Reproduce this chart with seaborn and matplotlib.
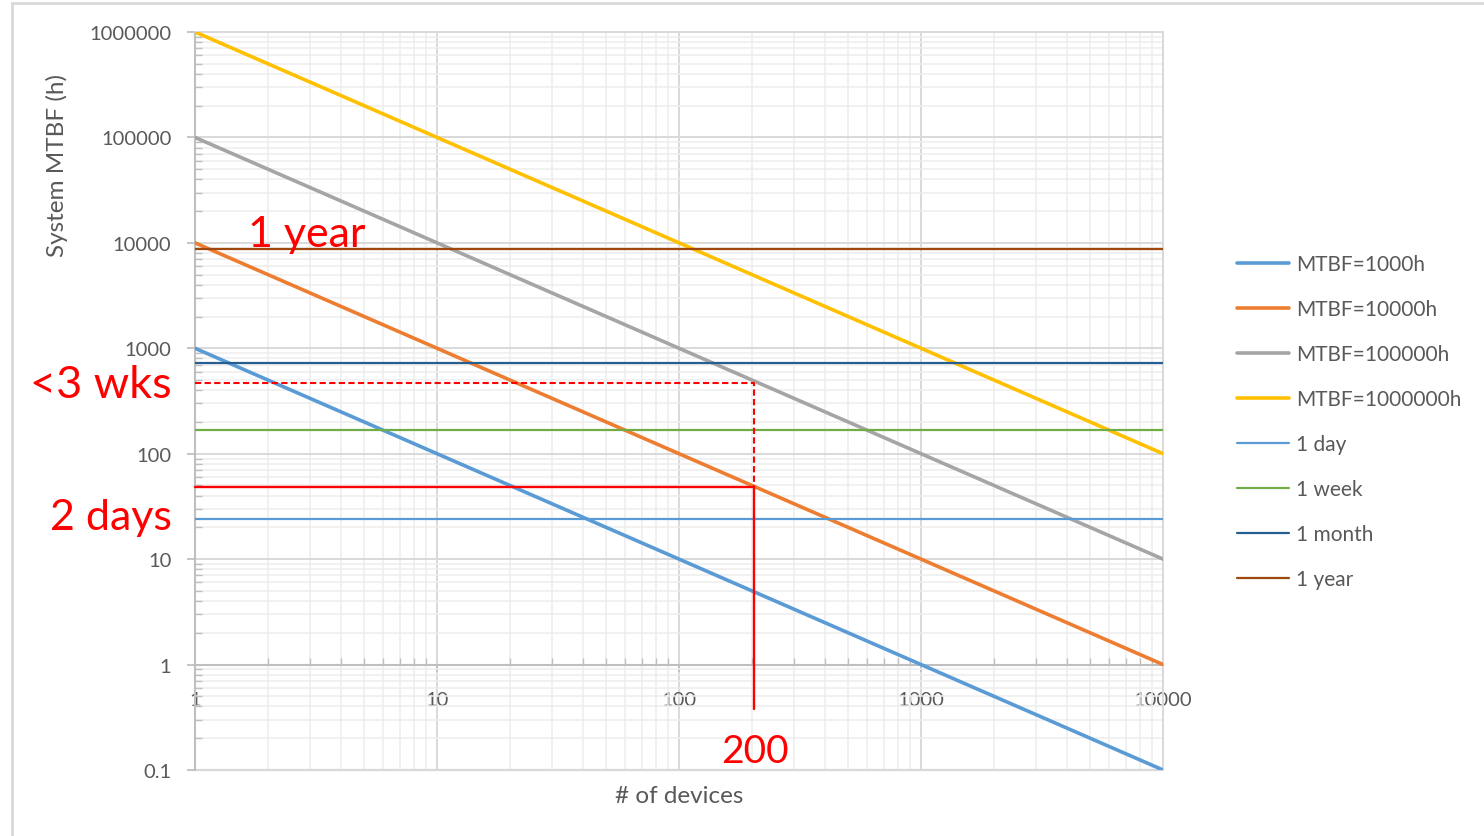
import pandas as pd
import seaborn as sns
import matplotlib.pyplot as plt
from matplotlib.patches import Rectangle
from matplotlib.ticker import LogLocator, FixedLocator, FixedFormatter, NullFormatter
import matplotlib.transforms as mtransforms

# ------------------------
# Data
# ------------------------
devices = [1, 10, 100, 1000, 10000]
mtbf_1e3 = [1000, 100, 10, 1, 0.1]
mtbf_1e4 = [10000, 1000, 100, 10, 1]
mtbf_1e5 = [100000, 10000, 1000, 100, 10]
mtbf_1e6 = [1000000, 100000, 10000, 1000, 100]

span = [1, 10000]
one_day = [24, 24]
one_week = [168, 168]
one_month = [720, 720]
one_year = [8760, 8760]

series_labels = ['MTBF=1000h', 'MTBF=10000h', 'MTBF=100000h', 'MTBF=1000000h',
                 '1 day', '1 week', '1 month', '1 year']
COLORS = ['#5B9BD5', '#ED7D31', '#A5A5A5', '#FFC000',
          '#5B9BD5', '#70AD47', '#255E91', '#9E480E']

# annotation paths
dash_x = [1, 205, 205]
dash_y = [470, 470, 48]
solid_x = [1, 205, 205]
solid_y = [48, 48, 0.38]

yticks = [0.1, 1, 10, 100, 1000, 10000, 100000, 1000000]
ytick_labels = ['0.1', '1', '10', '100', '1000', '10000', '100000', '1000000']
xticks = [1, 10, 100, 1000, 10000]
xtick_labels = ['1', '10', '100', '1000', '10000']

# ------------------------
# Style
# ------------------------
sns.set_style('white')
plt.rcParams['font.family'] = ['Lato', 'DejaVu Sans']
GRAY_TXT = '#595959'
RED = '#FF0000'

fig = plt.figure(figsize=(14.84, 8.37), dpi=100)
ax = fig.add_axes([0.1314, 0.0789, 0.6523, 0.8817])

# ------------------------
# Plotting
# ------------------------
ys = [mtbf_1e3, mtbf_1e4, mtbf_1e5, mtbf_1e6]
for i, y in enumerate(ys):
    sns.lineplot(x=devices, y=y, color=COLORS[i], lw=2.6, label=series_labels[i],
                 ax=ax, zorder=4)
for j, y in enumerate([one_day, one_week, one_month, one_year]):
    sns.lineplot(x=span, y=y, color=COLORS[4 + j], lw=1.6, label=series_labels[4 + j],
                 ax=ax, zorder=4)

sns.lineplot(x=dash_x, y=dash_y, sort=False, estimator=None, color=RED, lw=1.5,
             linestyle=(0, (3, 1.6)), ax=ax, zorder=5)
sns.lineplot(x=solid_x, y=solid_y, sort=False, estimator=None, color=RED, lw=1.7,
             ax=ax, zorder=5, clip_on=False)

# Axis settings
ax.set_xscale('log')
ax.set_yscale('log')
ax.set_xlim(1, 10000)
ax.set_ylim(0.1, 1000000)

ax.yaxis.set_major_locator(FixedLocator(yticks))
ax.yaxis.set_major_formatter(FixedFormatter(ytick_labels))
ax.xaxis.set_major_locator(FixedLocator(xticks))
ax.xaxis.set_major_formatter(FixedFormatter(xtick_labels))
for axis in (ax.xaxis, ax.yaxis):
    axis.set_minor_locator(LogLocator(base=10, subs=range(2, 10), numticks=20))
    axis.set_minor_formatter(NullFormatter())

ax.grid(True, which='major', color='#D9D9D9', lw=1.4, zorder=0)
ax.grid(True, which='minor', color='#EDEDED', lw=1.1, zorder=0)
ax.set_axisbelow(True)

ax.spines['bottom'].set_position(('data', 1))
for s in ('bottom', 'left'):
    ax.spines[s].set_color('#BFBFBF')
    ax.spines[s].set_linewidth(1.5)
for s in ('top', 'right'):
    ax.spines[s].set_color('#D9D9D9')
    ax.spines[s].set_linewidth(1.4)
ax.axhline(0.1, color='#D9D9D9', lw=1.6, clip_on=False, zorder=1)

ax.tick_params(axis='y', which='major', direction='out', length=6, width=1.3,
               color='#BFBFBF', labelsize=14.5, labelcolor=GRAY_TXT, pad=11, left=True)
ax.tick_params(axis='y', which='minor', direction='in', length=5, width=1,
               color='#BFBFBF', left=True)
ax.tick_params(axis='x', which='major', direction='out', length=5, width=1.3,
               color='#BFBFBF', labelsize=14.5, labelcolor=GRAY_TXT, pad=14, bottom=True)
ax.tick_params(axis='x', which='minor', direction='in', length=5, width=1,
               color='#BFBFBF', bottom=True)

ax.set_xlabel('# of devices', fontsize=17.5, color=GRAY_TXT)
ax.xaxis.set_label_coords(0.5, -0.021)
ax.set_ylabel('System MTBF (h)', fontsize=17.5, color=GRAY_TXT)
ax.yaxis.set_label_coords(-0.131, 0.821)

# Legend
ax.legend(loc='center left', bbox_to_anchor=(0.828, 0.495), bbox_transform=fig.transFigure,
          frameon=False, fontsize=15, handlelength=2.5, handletextpad=0.35,
          labelspacing=1.2, borderaxespad=0, labelcolor=GRAY_TXT)

# Red annotations
trans = mtransforms.blended_transform_factory(ax.transAxes, ax.transData)
ax.text(1.65, 12000, '1 year', color=RED, fontsize=31, ha='left', va='center', zorder=6)
ax.text(-0.024, 455, '<3 wks', color=RED, fontsize=32.5, ha='right', va='center',
        transform=trans, clip_on=False)
ax.text(-0.024, 25, '2 days', color=RED, fontsize=31, ha='right', va='center',
        transform=trans, clip_on=False)
ax.text(205, 0.15, '200', color=RED, fontsize=28, ha='center', va='center', zorder=6)

# Outer border
fig.add_artist(Rectangle((12 / 1484, -0.1), 1.2, 1.1 - 4 / 837, transform=fig.transFigure,
                         fill=False, ec='#D9D9D9', lw=2))

# ------------------------
# Save figure
# ------------------------
fig.savefig('out.png', dpi=100)
